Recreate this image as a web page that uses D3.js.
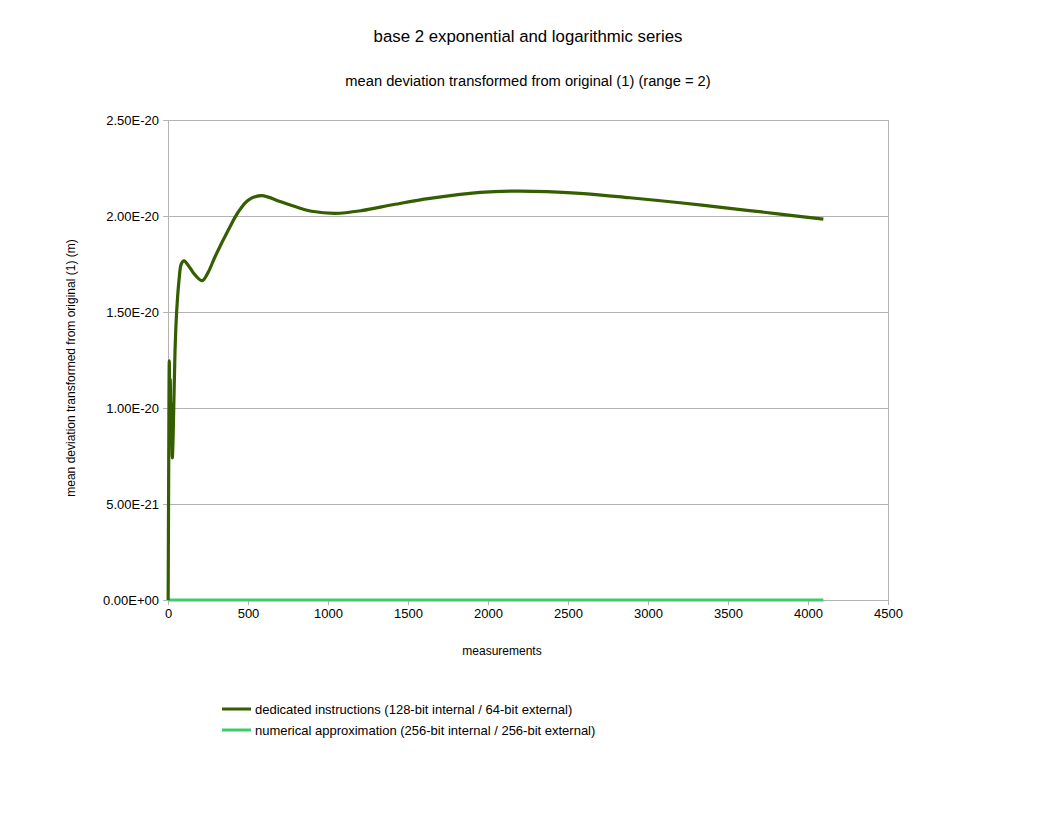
<!DOCTYPE html>
<html>
<head>
<meta charset="utf-8">
<script src="https://cdn.jsdelivr.net/npm/d3@7"></script>
<style>
  html, body { margin: 0; padding: 0; background: #ffffff; }
  svg { display: block; font-family: "Liberation Sans", Arial, sans-serif; }
</style>
</head>
<body>
<div id="chart"></div>
<script>
// ---- data ----
const chartTitle = "base 2 exponential and logarithmic series";
const chartSubtitle = "mean deviation transformed from original (1) (range = 2)";
const xAxisTitle = "measurements";
const yAxisTitle = "mean deviation transformed from original (1) (m)";

const seriesNames = [
  "dedicated instructions (128-bit internal / 64-bit external)",
  "numerical approximation (256-bit internal / 256-bit external)"
];

const dedicatedX = [1, 4, 8, 11, 14, 18, 22, 27, 33, 44, 54, 69, 83, 100, 137, 169, 214, 250, 294, 377, 440, 502, 585, 700, 794, 898, 1044, 1210, 1419, 1637, 1950, 2200, 2575, 2887, 3200, 3512, 3825, 4096];
const dedicatedY = [0, 0.62e-20, 1.245e-20, 0.95e-20, 1.15e-20, 0.82e-20, 1.02e-20, 0.74e-20, 0.885e-20, 1.30e-20, 1.50e-20, 1.667e-20, 1.75e-20, 1.766e-20, 1.73e-20, 1.693e-20, 1.663e-20, 1.705e-20, 1.788e-20, 1.927e-20, 2.022e-20, 2.083e-20, 2.106e-20, 2.075e-20, 2.049e-20, 2.025e-20, 2.014e-20, 2.028e-20, 2.061e-20, 2.092e-20, 2.123e-20, 2.130e-20, 2.118e-20, 2.095e-20, 2.069e-20, 2.040e-20, 2.010e-20, 1.984e-20];

const numericalX = [1, 512, 1024, 2048, 3072, 4096];
const numericalY = [0, 0, 0, 0, 0, 0];

const xTicks = [0, 500, 1000, 1500, 2000, 2500, 3000, 3500, 4000, 4500];
const yTicks = [0, 0.5e-20, 1.0e-20, 1.5e-20, 2.0e-20, 2.5e-20];
const yTickLabels = ["0.00E+00", "5.00E-21", "1.00E-20", "1.50E-20", "2.00E-20", "2.50E-20"];

const seriesColors = ["#355e00", "#3ccc6a"];

// ---- layout ----
const W = 1056, H = 816;
const plot = { left: 168, right: 888, top: 120, bottom: 600 };

const svg = d3.select("#chart").append("svg")
  .attr("width", W).attr("height", H);

const x = d3.scaleLinear().domain([0, 4500]).range([plot.left, plot.right]);
const y = d3.scaleLinear().domain([0, 2.5e-20]).range([plot.bottom, plot.top]);

// gridlines
svg.append("g").selectAll("line").data(yTicks).join("line")
  .attr("x1", plot.left).attr("x2", plot.right)
  .attr("y1", d => y(d)).attr("y2", d => y(d))
  .attr("stroke", "#b3b3b3").attr("stroke-width", 1)
  .attr("shape-rendering", "crispEdges");

// plot frame
svg.append("rect")
  .attr("x", plot.left).attr("y", plot.top)
  .attr("width", plot.right - plot.left).attr("height", plot.bottom - plot.top)
  .attr("fill", "none").attr("stroke", "#b3b3b3").attr("stroke-width", 1)
  .attr("shape-rendering", "crispEdges");

// axes
const yAxis = d3.axisLeft(y).tickValues(yTicks)
  .tickFormat((d, i) => yTickLabels[i]).tickSize(5).tickPadding(4);
const gy = svg.append("g").attr("transform", `translate(${plot.left},0)`).call(yAxis);
gy.select(".domain").attr("stroke", "#b3b3b3");
gy.selectAll(".tick line").attr("stroke", "#b3b3b3").attr("shape-rendering", "crispEdges");
gy.selectAll(".tick text").attr("font-size", 13).attr("fill", "#000")
  .attr("font-family", "Liberation Sans, Arial, sans-serif");

const xAxis = d3.axisBottom(x).tickValues(xTicks).tickFormat(d3.format("d"))
  .tickSize(5).tickPadding(4);
const gx = svg.append("g").attr("transform", `translate(0,${plot.bottom})`).call(xAxis);
gx.select(".domain").attr("stroke", "#b3b3b3");
gx.selectAll(".tick line").attr("stroke", "#b3b3b3").attr("shape-rendering", "crispEdges");
gx.selectAll(".tick text").attr("font-size", 13).attr("fill", "#000")
  .attr("font-family", "Liberation Sans, Arial, sans-serif");

// series
const line = d3.line().x(d => x(d[0])).y(d => y(d[1])).curve(d3.curveCatmullRom.alpha(0.5));
const dedicated = dedicatedX.map((v, i) => [v, dedicatedY[i]]);
const numerical = numericalX.map((v, i) => [v, numericalY[i]]);

svg.append("path").datum(numerical)
  .attr("d", line).attr("fill", "none")
  .attr("stroke", seriesColors[1]).attr("stroke-width", 3)
  .attr("stroke-linejoin", "round");
svg.append("path").datum(dedicated)
  .attr("d", line).attr("fill", "none")
  .attr("stroke", seriesColors[0]).attr("stroke-width", 3.2)
  .attr("stroke-linejoin", "round");

// titles
svg.append("text").attr("x", 528).attr("y", 42).attr("text-anchor", "middle")
  .attr("font-size", 16.8).attr("fill", "#000").text(chartTitle);
svg.append("text").attr("x", 528).attr("y", 86).attr("text-anchor", "middle")
  .attr("font-size", 14.7).attr("fill", "#000").text(chartSubtitle);
svg.append("text").attr("x", 502).attr("y", 655).attr("text-anchor", "middle")
  .attr("font-size", 12).attr("fill", "#000").text(xAxisTitle);
svg.append("text")
  .attr("transform", `translate(75,368) rotate(-90)`)
  .attr("text-anchor", "middle").attr("font-size", 12).attr("fill", "#000")
  .text(yAxisTitle);

// legend
const legend = svg.append("g");
seriesNames.forEach((name, i) => {
  const ly = 709 + i * 21;
  legend.append("line").attr("x1", 222).attr("x2", 251)
    .attr("y1", ly).attr("y2", ly)
    .attr("stroke", seriesColors[i]).attr("stroke-width", 3);
  legend.append("text").attr("x", 255).attr("y", ly + 5)
    .attr("font-size", 13).attr("fill", "#000").text(name);
});
</script>
</body>
</html>
